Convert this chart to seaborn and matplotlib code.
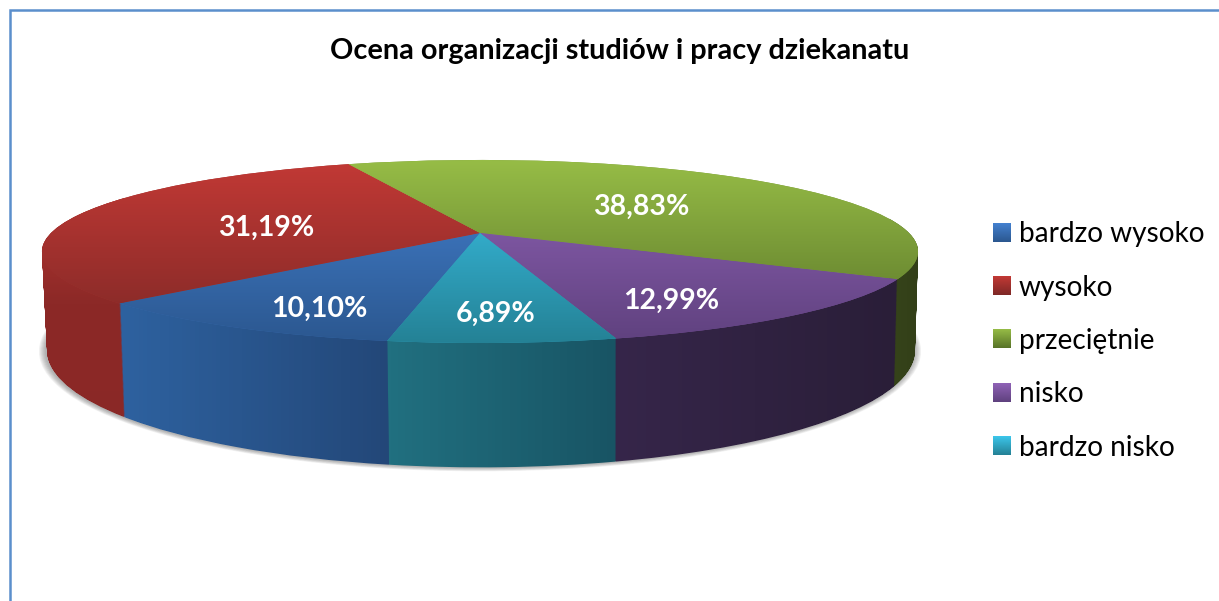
import numpy as np
import seaborn as sns
import matplotlib
matplotlib.use("Agg")
import matplotlib.pyplot as plt
from matplotlib.patches import PathPatch
from matplotlib.path import Path
from matplotlib.transforms import Transform

# dane z wykresu
categories = ["bardzo wysoko", "wysoko", "przeciętnie", "nisko", "bardzo nisko"]
shares = [10.10, 31.19, 38.83, 12.99, 6.89]
title = "Ocena organizacji studiów i pracy dziekanatu"

# kolory: gora wycinka (y=160 -> y=345), sciana boczna (lewo -> prawo)
top_start = [(68, 129, 208), (194, 57, 53), (150, 188, 70), (144, 99, 183), (60, 198, 235)]
top_end = [(43, 87, 143), (126, 40, 38), (88, 115, 40), (95, 65, 126), (36, 129, 149)]
wall_left = [(46, 98, 160), (140, 41, 39), (54, 68, 26), (54, 38, 74), (33, 112, 128)]
wall_right = [(35, 71, 120), (138, 40, 38), (50, 62, 24), (42, 30, 56), (24, 84, 100)]
wall_x = [(117, 393), (40, 125), (889, 925), (610, 900), (387, 618)]
label_xy = [(319, 309), (266, 228), (641, 207), (671, 301), (496, 314)]
wall_order = [1, 2, 0, 3, 4]

sns.set_theme(style="white")
plt.rcParams["font.family"] = ["Lato", "DejaVu Sans"]
palette = sns.color_palette([tuple((np.array(a) + np.array(b)) / 510) for a, b in zip(top_start, top_end)])


# rzut perspektywiczny kola jednostkowego na piksele
class Persp(Transform):
    input_dims = 2
    output_dims = 2

    def __init__(self, cx, cy, b, a, k=0.202):
        super().__init__()
        self.cx, self.cy, self.b, self.a, self.k = cx, cy, b, a, k

    def transform_non_affine(self, values):
        values = np.asarray(values)
        d = 1 + self.k * values[:, 1]
        return np.column_stack([self.cx + self.b * values[:, 0] / d,
                                self.cy - self.a * values[:, 1] / d])


def ramp(c0, c1, vertical=True):
    t = np.linspace(0, 1, 64)[:, None]
    rgb = (np.array(c0)[None, :] * (1 - t) + np.array(c1)[None, :] * t) / 255
    return rgb[:, None, :] if vertical else rgb[None, :, :]


def layer(t):
    return Persp(480 + t, 233 + 94 * t, 429 - 4 * t, 87.8 + 24.2 * t)


fig = plt.figure(figsize=(12.19, 6.01), dpi=100)
ax = fig.add_axes([0, 0, 1, 1])

wedges, _ = ax.pie(shares, startangle=260, counterclock=False, colors=palette,
                   wedgeprops={"linewidth": 0})
ax.set_aspect("auto")

# cien pod tortem
for g in range(1, 8):
    ax.add_patch(PathPatch(Path.unit_circle(), facecolor="#555555", edgecolor="none", alpha=0.08, zorder=1,
                           transform=Persp(480, 327, 425 + g, 112 + g * 0.45) + ax.transData))

# sciany boczne
for n, i in enumerate(wall_order):
    path = wedges[i].get_path()
    stack = Path.make_compound_path(*[layer(t).transform_path(path) for t in np.linspace(0, 1, 130)])
    x0, x1 = wall_x[i]
    if i == 1:
        # czerwona sciana przechodzi plynnie w gore wycinka
        im = ax.imshow(ramp(top_start[i], wall_left[i]), extent=(x0, x1, 304, 160), aspect="auto", zorder=2 + n)
        im.set_clip_path(stack, transform=ax.transData)
        im = ax.imshow(ramp(wall_left[i], wall_right[i]), extent=(x0, x1, 480, 303), aspect="auto", zorder=2 + n)
    else:
        im = ax.imshow(ramp(wall_left[i], wall_right[i], vertical=False), extent=(x0, x1, 480, 150),
                       aspect="auto", zorder=2 + n)
    im.set_clip_path(stack, transform=ax.transData)

# gora tortu
for i, w in enumerate(wedges):
    w.set_transform(layer(0) + ax.transData)
    w.set_zorder(10)
    im = ax.imshow(ramp(top_start[i], top_end[i]), extent=(30, 930, 345, 160), aspect="auto", zorder=11)
    im.set_clip_path(w)
    x, y = label_xy[i]
    ax.text(x, y, f"{shares[i]:.2f}%".replace(".", ","), color="white", fontsize=20.5, fontweight="bold",
            ha="center", va="center", zorder=20)

# ramka
ax.plot([10, 10, 1219], [601, 10, 10], color="#5b8fcc", lw=1.8, zorder=0.5, solid_joinstyle="miter")

ax.set_xlim(0, 1219)
ax.set_ylim(601, 0)
ax.text(620, 51, title, fontsize=20.8, fontweight="bold", color="black", ha="center", va="center")

leg = ax.legend(wedges, categories, loc="center left", bbox_to_anchor=(993, 341),
                bbox_transform=ax.transData, frameon=False, fontsize=20.2, borderpad=0, borderaxespad=0,
                handlelength=0.64, handleheight=0.64, handletextpad=0.27, labelspacing=0.976, labelcolor="black")
leg.set_zorder(20)

# gradient na kwadratach legendy
fig.canvas.draw()
for i, h in enumerate(leg.get_patches()):
    bb = h.get_window_extent()
    im = ax.imshow(ramp(top_start[i], top_end[i]),
                   extent=(bb.x0, bb.x1, 601 - bb.y0, 601 - bb.y1), aspect="auto", zorder=21)
ax.set_xlim(0, 1219)
ax.set_ylim(601, 0)

fig.savefig("out.png", dpi=100)
